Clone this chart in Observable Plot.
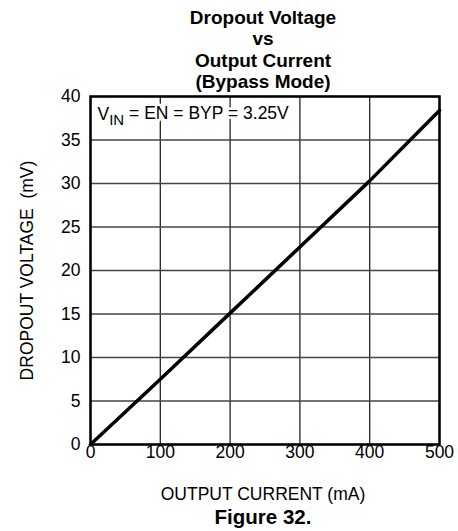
<!DOCTYPE html>
<html>
<head>
<meta charset="utf-8">
<script src="https://cdn.jsdelivr.net/npm/d3@7"></script>
<script src="https://cdn.jsdelivr.net/npm/@observablehq/plot@0.6"></script>
<style>
  html, body { margin: 0; padding: 0; background: #fff; }
  #chart svg { display: block; }
</style>
</head>
<body>
<div id="chart"></div>
<script>
const titleLines = ["Dropout Voltage", "vs", "Output Current", "(Bypass Mode)"];
const xLabel = "OUTPUT CURRENT (mA)";
const yLabel = "DROPOUT VOLTAGE\u00a0 (mV)";
const caption = "Figure 32.";
const annotation = "VIN = EN = BYP = 3.25V";

const outputCurrent = [0, 100, 200, 300, 400, 500];
const dropoutVoltage = [0, 7.5, 15.1, 22.7, 30.3, 38.4];

const xTicks = [0, 100, 200, 300, 400, 500];
const yTicks = [0, 5, 10, 15, 20, 25, 30, 35, 40];

const data = outputCurrent.map((c, i) => ({current: c, voltage: dropoutVoltage[i]}));
const font = "Arial, 'Liberation Sans', Helvetica, sans-serif";

const titleSize = 19;
const titleSpacing = 21.4;

const chart = Plot.plot({
  width: 458,
  height: 531,
  marginLeft: 90,
  marginRight: 19,
  marginTop: 96,
  marginBottom: 87,
  style: {fontFamily: font, fontSize: "17.5px", color: "#000", background: "#fff"},
  x: {domain: [0, 500], ticks: xTicks},
  y: {domain: [0, 40], ticks: yTicks},
  marks: [
    Plot.gridX(xTicks, {stroke: "#222", strokeOpacity: 1, strokeWidth: 1.3}),
    Plot.gridY(yTicks, {stroke: "#444", strokeOpacity: 1, strokeWidth: 1.5}),
    Plot.text([annotation], {
      frameAnchor: "top-left", textAnchor: "start", lineAnchor: "middle",
      dx: 7, dy: 18, fontSize: 17.5, fill: "#000",
      stroke: "white", strokeWidth: 5, paintOrder: "stroke"
    }),
    Plot.line(data, {x: "current", y: "voltage", stroke: "#000", strokeWidth: 3.5}),
    Plot.frame({stroke: "#000", strokeWidth: 2.5}),
    Plot.axisX({ticks: xTicks, tickSize: 0, tickPadding: 1, label: null, fontSize: 17.5}),
    Plot.axisY({ticks: yTicks, tickSize: 0, tickPadding: 10, label: null, fontSize: 17.5}),
    ...titleLines.map((line, i) => Plot.text([line], {
      frameAnchor: "top", textAnchor: "middle", lineAnchor: "top",
      dx: -2, dy: -86 + i * titleSpacing, fontSize: titleSize, fontWeight: "bold", fill: "#000"
    })),
    Plot.text([yLabel], {
      frameAnchor: "left", rotate: -90, dx: -63, lineAnchor: "middle",
      textAnchor: "middle", fontSize: 17.5, fill: "#000"
    }),
    Plot.text([xLabel], {
      frameAnchor: "bottom", dy: 50, dx: -2, lineAnchor: "middle",
      textAnchor: "middle", fontSize: 17.5, fill: "#000"
    }),
    Plot.text([caption], {
      frameAnchor: "bottom", dy: 73, dx: -2, lineAnchor: "middle",
      textAnchor: "middle", fontSize: 20.5, fontWeight: "bold", fill: "#000"
    })
  ]
});

// Render the "IN" of VIN as a subscript
chart.querySelectorAll("text").forEach(t => {
  if (t.textContent === annotation) {
    const ns = "http://www.w3.org/2000/svg";
    while (t.firstChild) t.removeChild(t.firstChild);
    t.appendChild(document.createTextNode("V"));
    const sub = document.createElementNS(ns, "tspan");
    sub.setAttribute("dy", "0.3em");
    sub.setAttribute("font-size", "15px");
    sub.textContent = "IN";
    t.appendChild(sub);
    const rest = document.createElementNS(ns, "tspan");
    rest.setAttribute("dy", "-0.3em");
    rest.textContent = " = EN = BYP = 3.25V";
    t.appendChild(rest);
  }
});

document.getElementById("chart").appendChild(chart);
</script>
</body>
</html>
